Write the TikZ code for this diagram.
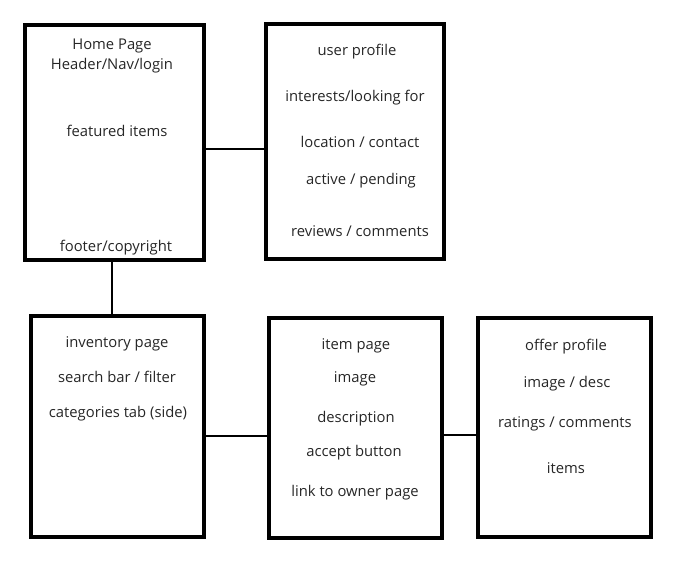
\documentclass[tikz,border=0pt]{standalone}
\usepackage{fontspec}
\setmainfont{Open Sans}
\usetikzlibrary{calc, positioning}

\begin{document}
\begin{tikzpicture}[x=0.75pt, y=-0.75pt,
    page/.style={draw, line width=2.3pt, minimum width=#1, inner sep=0pt},
    txt/.style={text=black!85, font=\fontsize{11.1}{13}\selectfont, inner sep=0pt, yshift=-1pt},
    link/.style={line width=2pt}]
    \useasboundingbox (0,0) rectangle (683,561);

    % --- Page boxes ---
    \node[page=134.25pt, minimum height=176.25pt] (home) at (114.5,142.5) {};
    \node[page=133.5pt, minimum height=176.25pt] (user) at (355,141.5) {};
    \node[page=129.75pt, minimum height=165.75pt] (inv) at (117.5,426.5) {};
    \node[page=129.75pt, minimum height=165pt] (item) at (355.5,428) {};
    \node[page=129.75pt, minimum height=164.25pt] (offer) at (564.5,427.5) {};

    % --- Home page ---
    \node[txt] (homet) at (112,45) {Home Page};
    \node[txt] (homenav) at (112,64) {Header/Nav/login};
    \node[txt] (homefeat) at (117,130) {featured items};
    \node[txt] (homefoot) at (116,246) {footer/copyright};

    % --- User profile ---
    \node[txt] (usert) at (357,50) {user profile};
    \node[txt] (userint) at (355,96) {interests/looking for};
    \node[txt] (userloc) at (360,141) {location / contact};
    \node[txt] (useract) at (361,179) {active / pending};
    \node[txt] (userrev) at (360,230) {reviews / comments};

    % --- Inventory page ---
    \node[txt] (invt) at (117,343) {inventory page};
    \node[txt] (invsearch) at (117,376) {search bar / filter};
    \node[txt] (invcat) at (118,412) {categories tab (side)};

    % --- Item page ---
    \node[txt] (itemt) at (356,345) {item page};
    \node[txt] (itemimg) at (355,378) {image};
    \node[txt] (itemdesc) at (356,417) {description};
    \node[txt] (itemacc) at (354,451) {accept button};
    \node[txt] (itemlink) at (355,491) {link to owner page};

    % --- Offer profile ---
    \node[txt] (offert) at (566,345) {offer profile};
    \node[txt] (offerimg) at (567,382) {image / desc};
    \node[txt] (offerrat) at (565,423) {ratings / comments};
    \node[txt] (offeritems) at (566,467) {items};

    % --- Connectors ---
    \coordinate (c1) at (0,149);
    \coordinate (c2) at (112,0);
    \coordinate (c3) at (0,436);
    \coordinate (c4) at (0,435);
    \draw[link] (home.east |- c1) -- (user.west |- c1);
    \draw[link] (home.south -| c2) -- (inv.north -| c2);
    \draw[link] (inv.east |- c3) -- (item.west |- c3);
    \draw[link] (item.east |- c4) -- (offer.west |- c4);
\end{tikzpicture}
\end{document}
